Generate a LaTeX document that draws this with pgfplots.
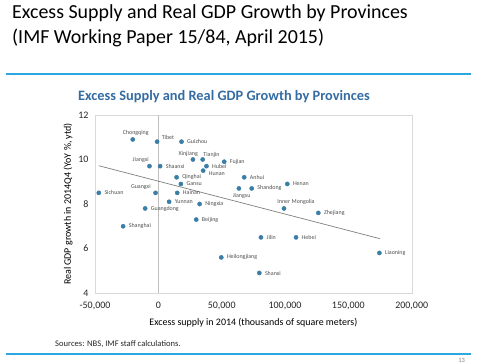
\documentclass[border=0pt]{standalone}
\usepackage{fontspec}
\setmainfont{Carlito}
\usepackage{pgfplots}
\pgfplotsset{compat=1.18}
\usepackage{pgfplotstable}
\definecolor{dotblue}{RGB}{58,125,166}
\definecolor{titleblue}{RGB}{52,108,163}
\definecolor{rulecol}{RGB}{43,168,224}
\definecolor{lblgray}{RGB}{80,80,80}
\definecolor{boxgray}{RGB}{217,217,217}
% provinces labelled to the right of the dot
\pgfplotstableread[col sep=comma]{
x,y,name
18300,10.8,Guizhou
1400,9.7,Shaanxi
52000,9.9,Fujian
38000,9.7,Hubei
14400,9.2,Qinghai
17800,8.9,Gansu
67800,9.2,Anhui
73700,8.7,Shandong
101800,8.9,Henan
-47000,8.5,Sichuan
14900,8.5,Hainan
8500,8.1,Yunnan
32600,8.0,Ningxia
-10400,7.8,Guangdong
126300,7.6,Zhejiang
29900,7.3,Beijing
-27800,7.0,Shanghai
81000,6.5,Jilin
108700,6.5,Hebei
174500,5.8,Liaoning
49700,5.6,Heilongjiang
79700,4.9,Shanxi
}\provright
\pgfplotsset{
  provdot/.style={only marks, mark=*, mark size=2.1bp, color=dotblue,
    point meta=explicit symbolic, nodes near coords},
}
\tikzset{provlbl/.style={inner sep=0.5bp, font=\fontsize{6}{6.5}\selectfont, text=lblgray}}
\begin{document}
\begin{tikzpicture}
\path[use as bounding box, fill=white] (0,0) rectangle (480bp,363bp);
% slide title
\node[anchor=base west, inner sep=0pt, font=\fontsize{20}{22}\selectfont] at (12bp,344.7bp) {Excess Supply and Real GDP Growth by Provinces};
\node[anchor=base west, inner sep=0pt, font=\fontsize{20}{22}\selectfont] at (12bp,319.7bp) {(IMF Working Paper 15/84, April 2015)};
\draw[draw=rulecol, line width=1.6bp] (6bp,289bp) -- (471bp,289bp);
\draw[draw=rulecol, line width=1.6bp] (6bp,9bp) -- (471bp,9bp);
\node[anchor=base, inner sep=0pt, font=\bfseries\fontsize{14.4}{16}\selectfont, text=titleblue] at (224bp,262bp) {Excess Supply and Real GDP Growth by Provinces};
\node[anchor=base west, inner sep=0pt, font=\fontsize{8.6}{10}\selectfont, text=black!85] at (55bp,17bp) {Sources: NBS, IMF staff calculations.};
\node[anchor=center, inner sep=0pt, font=\fontsize{6.5}{7}\selectfont, text=black!50] at (461.7bp,2.5bp) {13};
\begin{axis}[
  at={(95bp,70bp)}, anchor=south west,
  scale only axis, width=316.7bp, height=178bp,
  xmin=-50000, xmax=200000, ymin=4, ymax=12,
  xtick={-50000,0,50000,100000,150000,200000},
  xticklabels={{-50,000},{0},{50,000},{100,000},{150,000},{200,000}},
  scaled x ticks=false,
  ytick={4,6,8,10,12},
  yticklabels={4,6,8,10,12},
  major tick length=0pt,
  axis line style={boxgray},
  tick label style={font=\fontsize{10}{12}\selectfont, text=black!85},
  xticklabel style={yshift=-5.5bp},
  yticklabel style={xshift=-3bp},
  xlabel={Excess supply in 2014 (thousands of square meters)},
  ylabel={Real GDP growth in 2014Q4 (YoY \%, ytd)},
  label style={font=\fontsize{10}{12}\selectfont, text=black!85},
  every axis x label/.style={at={(axis description cs:0.5,-0.165)}, anchor=center},
  every axis y label/.style={at={(axis description cs:-0.085,0.5)}, rotate=90, anchor=center},
  clip=false,
]
\draw[black!25, line width=0.6bp] (axis cs:0,4) -- (axis cs:0,12);
\addplot[black!50, line width=0.7bp, forget plot] coordinates {(-47000,9.72) (175000,6.44)};
\addplot[provdot, nodes near coords style={provlbl, anchor=west, xshift=5bp}]
  table[x=x, y=y, meta=name] {\provright};
\addplot[provdot, nodes near coords style={provlbl, anchor=center, xshift=3bp, yshift=7bp}]
  coordinates {(-20200,10.9) [Chongqing]};
\addplot[provdot, nodes near coords style={provlbl, anchor=west, xshift=4bp, yshift=4.5bp}]
  coordinates {(-1000,10.8) [Tibet]};
\addplot[provdot, nodes near coords style={provlbl, anchor=center, xshift=-8.7bp, yshift=6.7bp}]
  coordinates {(-7000,9.7) [Jiangxi]};
\addplot[provdot, nodes near coords style={provlbl, anchor=center, xshift=-4.7bp, yshift=6bp}]
  coordinates {(27300,10.0) [Xinjiang]};
\addplot[provdot, nodes near coords style={provlbl, anchor=south west, xshift=0bp, yshift=1bp}]
  coordinates {(35000,10.0) [Tianjin]};
\addplot[provdot, nodes near coords style={provlbl, anchor=west, xshift=5bp, yshift=-2.5bp}]
  coordinates {(35400,9.5) [Hunan]};
\addplot[provdot, nodes near coords style={provlbl, anchor=center, xshift=2.7bp, yshift=-7.7bp}]
  coordinates {(63600,8.7) [Jiangsu]};
\addplot[provdot, nodes near coords style={provlbl, anchor=center, xshift=-14.7bp, yshift=5.6bp}]
  coordinates {(-2200,8.5) [Guangxi]};
\addplot[provdot, nodes near coords style={provlbl, anchor=center, xshift=12bp, yshift=6.3bp}]
  coordinates {(99200,7.8) [Inner Mongolia]};
\end{axis}
\end{tikzpicture}
\end{document}
